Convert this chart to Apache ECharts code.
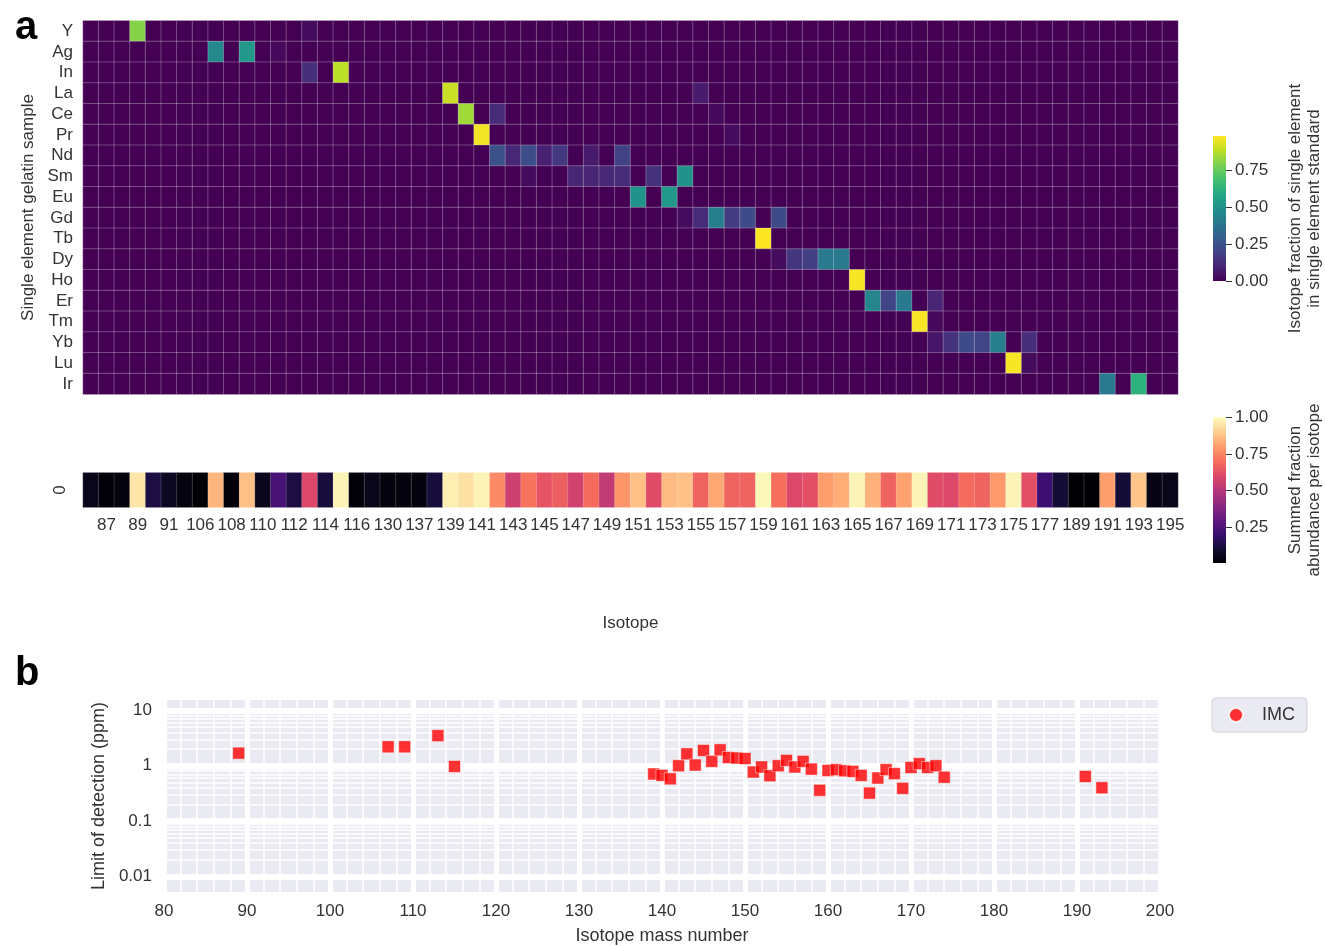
<!DOCTYPE html>
<html>
<head>
<meta charset="utf-8">
<script src="https://cdn.jsdelivr.net/npm/echarts@6/dist/echarts.min.js"></script>
<style>
html, body { margin: 0; padding: 0; background: #fff; }
#main { width: 1325px; height: 946px; }
</style>
</head>
<body>
<div id="main"></div>
<script>
// rows of panel a (top to bottom)
var elements = ['Y','Ag','In','La','Ce','Pr','Nd','Sm','Eu','Gd','Tb','Dy','Ho','Er','Tm','Yb','Lu','Ir'];

// isotope columns (labels shown every other one)
var isotopes = ['86','87','88','89','90','91','105','106','107','108','109','110','111','112','113','114','115','116','120','130','136','137','138',
    '139','140','141','142','143','144','145','146','147','148','149','150','151','152','153','154','155','156','157','158','159','160',
    '161','162','163','164','165','166','167','168','169','170','171','172','173','174','175','176','177','178','189','190','191','192','193','194','195'];

// non-zero isotope fractions per element, [isotope, fraction]
var fractionPeaks = [
    [['89',0.80],['113',0.03]],
    [['107',0.46],['109',0.52],['111',0.02]],
    [['113',0.13],['115',0.88]],
    [['139',0.90],['155',0.07]],
    [['140',0.84],['142',0.12],['156',0.02]],
    [['141',0.96],['157',0.03]],
    [['142',0.24],['143',0.11],['144',0.23],['145',0.09],['146',0.16],['148',0.07],['150',0.19]],
    [['144',0.03],['147',0.10],['148',0.10],['149',0.11],['150',0.12],['152',0.14],['154',0.50]],
    [['151',0.50],['153',0.52]],
    [['154',0.03],['155',0.12],['156',0.42],['157',0.17],['158',0.22],['160',0.22]],
    [['159',0.98]],
    [['160',0.03],['161',0.15],['162',0.18],['163',0.40],['164',0.40]],
    [['165',0.97]],
    [['166',0.44],['167',0.20],['168',0.40],['170',0.10]],
    [['169',0.97],['170',0.02]],
    [['170',0.06],['171',0.14],['172',0.22],['173',0.20],['174',0.42],['176',0.13]],
    [['175',0.97],['176',0.03]],
    [['191',0.40],['193',0.62]]
];

// summed fraction abundance per isotope (strip)
var summedFraction = [0.05,0.02,0.03,0.95,0.13,0.07,0.03,0.01,0.85,0.02,0.87,0.06,0.24,0.13,0.60,0.12,0.98,0.02,0.05,0.03,0.03,0.03,0.12,
    0.97,0.94,0.98,0.76,0.56,0.71,0.63,0.66,0.57,0.69,0.53,0.78,0.87,0.61,0.86,0.87,0.67,0.82,0.67,0.67,0.99,0.70,
    0.60,0.62,0.80,0.83,0.98,0.84,0.67,0.81,0.98,0.61,0.60,0.69,0.67,0.79,0.98,0.62,0.21,0.11,0.01,0.01,0.80,0.11,0.88,0.04,0.05];

// panel b: limit of detection
var lodMass = [89,107,109,113,115,139,140,141,142,143,144,145,146,147,148,149,150,151,152,153,154,155,156,157,158,159,160,
    161,162,163,164,165,166,167,168,169,170,171,172,173,174,191,193];
var lodValue = [1.69,2.2,2.2,3.5,0.97,0.71,0.67,0.58,1.0,1.64,1.03,1.89,1.2,1.94,1.41,1.38,1.35,0.77,0.95,0.66,1.0,1.25,0.95,1.2,0.87,0.36,0.82,
    0.85,0.81,0.79,0.67,0.32,0.6,0.85,0.72,0.39,0.93,1.09,0.93,1.0,0.62,0.64,0.40];

var viridis = ['#440154','#482475','#414487','#355f8d','#2a788e','#21918c','#22a884','#44bf70','#7ad151','#bddf26','#fde725'];
var magma = ['#000004','#140e36','#3b0f70','#641a80','#8c2981','#b73779','#de4968','#f7705c','#fe9f6d','#fecf92','#fcfdbf'];

var fracMax = 0.98;
var sumMin = 0.01, sumMax = 1.0;

var heatData = [];
elements.forEach(function (el, r) {
    isotopes.forEach(function (iso, c) {
        var v = 0;
        fractionPeaks[r].forEach(function (p) { if (p[0] === iso) v = p[1]; });
        heatData.push([c, r, v]);
    });
});
var stripData = summedFraction.map(function (v, c) { return [c, 0, v]; });
var lodData = lodMass.map(function (m, i) { return [m, lodValue[i]]; });

// log minor grid lines 2..9 per decade
var minorY = [];
for (var e = -3; e <= 1; e++) {
    for (var k = 2; k <= 9; k++) {
        var v = +(k * Math.pow(10, e)).toPrecision(3);
        if (v > 0.00521 && v < 15.45) minorY.push({yAxis: v});
    }
}

function gradient(stops) {
    return new echarts.graphic.LinearGradient(0, 1, 0, 0, stops.map(function (c, i) {
        return {offset: i / (stops.length - 1), color: c};
    }));
}

var font = 'Liberation Sans, Arial, sans-serif';
var txt = '#333';
var fs = 17;

var chart = echarts.init(document.getElementById('main'));
var option = {
    animation: false,
    textStyle: {fontFamily: font},
    title: [
        {text: 'a', left: 10, top: 3, textStyle: {fontSize: 40, fontWeight: 'bold', color: '#000', fontFamily: font}},
        {text: 'b', left: 10, top: 649, textStyle: {fontSize: 40, fontWeight: 'bold', color: '#000', fontFamily: font}}
    ],
    legend: {
        data: [{name: 'IMC', icon: 'circle'}],
        left: 1212, top: 698,
        itemWidth: 14, itemHeight: 14,
        padding: [8, 12, 8, 16],
        backgroundColor: '#EAEAF2',
        borderColor: '#cfcfd6', borderWidth: 1, borderRadius: 4,
        textStyle: {fontSize: 18, color: txt, padding: [0, 0, 0, 14], fontFamily: font}
    },
    grid: [
        {left: 83, top: 20.7, width: 1095, height: 373.6},
        {left: 83, top: 472.7, width: 1095, height: 34.6},
        {left: 164, top: 700, width: 996, height: 192.7, show: true, backgroundColor: '#EAEAF2', borderWidth: 0},
        {left: 1213, top: 136, width: 23, height: 145},
        {left: 1213, top: 417, width: 23, height: 146}
    ],
    visualMap: [
        {show: false, seriesIndex: 0, min: 0, max: fracMax, inRange: {color: viridis}},
        {show: false, seriesIndex: 1, min: sumMin, max: sumMax, inRange: {color: magma}}
    ],
    xAxis: [
        {gridIndex: 0, type: 'category', data: isotopes, axisLabel: {show: false}, axisTick: {show: false}, axisLine: {show: false}},
        {gridIndex: 1, type: 'category', data: isotopes,
            axisLabel: {interval: function (i) { return i % 2 === 1; }, fontSize: fs, color: txt, margin: 10},
            axisTick: {show: false}, axisLine: {show: false},
            name: 'Isotope', nameLocation: 'middle', nameGap: 108, nameTextStyle: {fontSize: fs, color: txt}},
        {gridIndex: 2, type: 'value', min: 80, max: 200, interval: 10,
            axisLine: {show: false}, axisTick: {show: false},
            axisLabel: {fontSize: fs, color: txt, margin: 11},
            splitLine: {show: true, lineStyle: {color: '#fff', width: 5}},
            minorTick: {show: false, splitNumber: 5},
            minorSplitLine: {show: true, lineStyle: {color: '#fff', width: 1.5}},
            name: 'Isotope mass number', nameLocation: 'middle', nameGap: 35, nameTextStyle: {fontSize: 18, color: txt}},
        {gridIndex: 3, type: 'category', data: [''], show: false},
        {gridIndex: 4, type: 'category', data: [''], show: false}
    ],
    yAxis: [
        {gridIndex: 0, type: 'category', data: elements, inverse: true,
            axisLine: {show: false}, axisTick: {show: false},
            axisLabel: {interval: 0, fontSize: fs, color: txt, margin: 10},
            name: 'Single element gelatin sample', nameLocation: 'middle', nameGap: 45, nameRotate: 90,
            nameTextStyle: {fontSize: fs, color: txt}},
        {gridIndex: 1, type: 'category', data: ['0'],
            axisLine: {show: false}, axisTick: {show: false},
            axisLabel: {fontSize: fs, color: txt, rotate: 90, margin: 14}},
        {gridIndex: 2, type: 'log', logBase: 10, min: 0.00521, max: 15.45,
            axisLine: {show: false}, axisTick: {show: false},
            axisLabel: {fontSize: fs, color: txt, margin: 12, showMinLabel: false, showMaxLabel: false,
                formatter: function (v) { return String(+v.toPrecision(3)); }},
            splitLine: {show: true, showMinLine: false, showMaxLine: false, lineStyle: {color: '#fff', width: 6}},
            name: 'Limit of detection (ppm)', nameLocation: 'middle', nameGap: 56, nameRotate: 90,
            nameTextStyle: {fontSize: 18, color: txt}},
        {gridIndex: 3, type: 'value', min: 0, max: fracMax, position: 'right',
            axisLine: {show: false}, splitLine: {show: false},
            axisTick: {show: true, length: 6, lineStyle: {color: txt}, customValues: [0, 0.25, 0.5, 0.75]},
            axisLabel: {fontSize: fs, color: txt, margin: 9, customValues: [0, 0.25, 0.5, 0.75],
                formatter: function (v) { return v.toFixed(2); }},
            name: 'Isotope fraction of single element\nin single element standard', nameLocation: 'middle',
            nameRotate: 90, nameGap: 60, nameTextStyle: {fontSize: fs, color: txt, lineHeight: 19}},
        {gridIndex: 4, type: 'value', min: sumMin, max: sumMax, position: 'right',
            axisLine: {show: false}, splitLine: {show: false},
            axisTick: {show: true, length: 6, lineStyle: {color: txt}, customValues: [0.25, 0.5, 0.75, 1.0]},
            axisLabel: {fontSize: fs, color: txt, margin: 9, customValues: [0.25, 0.5, 0.75, 1.0],
                formatter: function (v) { return v.toFixed(2); }},
            name: 'Summed fraction\nabundance per isotope', nameLocation: 'middle',
            nameRotate: 90, nameGap: 60, nameTextStyle: {fontSize: fs, color: txt, lineHeight: 19}}
    ],
    series: [
        {type: 'heatmap', xAxisIndex: 0, yAxisIndex: 0, data: heatData,
            itemStyle: {borderColor: 'rgba(255,255,255,0.5)', borderWidth: 0.5},
            emphasis: {disabled: true}},
        {type: 'heatmap', xAxisIndex: 1, yAxisIndex: 1, data: stripData,
            itemStyle: {borderColor: 'rgba(255,255,255,0.35)', borderWidth: 0.5},
            emphasis: {disabled: true}},
        {type: 'line', name: 'minor', xAxisIndex: 2, yAxisIndex: 2, data: [], silent: true, z: 1,
            markLine: {silent: true, symbol: ['none', 'none'], label: {show: false}, animation: false,
                lineStyle: {color: '#fff', width: 1.5, type: 'solid'}, emphasis: {disabled: true},
                data: minorY}},
        {type: 'scatter', name: 'IMC', xAxisIndex: 2, yAxisIndex: 2, data: lodData, z: 5,
            symbol: 'rect', symbolSize: 12,
            itemStyle: {color: '#ff0000', borderColor: '#fff', borderWidth: 0.6}},
        {type: 'bar', xAxisIndex: 3, yAxisIndex: 3, data: [fracMax], barWidth: '100%', silent: true,
            itemStyle: {color: gradient(viridis)}},
        {type: 'bar', xAxisIndex: 4, yAxisIndex: 4, data: [sumMax], barWidth: '100%', silent: true,
            itemStyle: {color: gradient(magma)}}
    ]
};
chart.setOption(option);
</script>
</body>
</html>
